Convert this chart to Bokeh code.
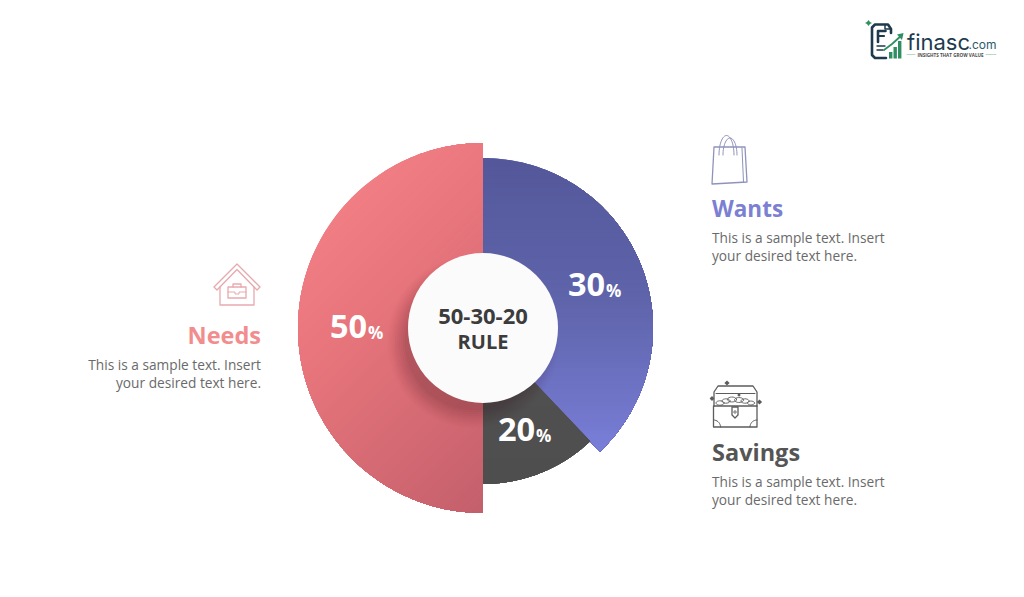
import numpy as np
from bokeh.plotting import figure
from bokeh.embed import file_html
from bokeh.resources import INLINE
from bokeh.core.properties import value

# ---- chart data ----
categories = ["Needs", "Wants", "Savings"]
shares = [50, 30, 20]
slice_start_deg = [180.0, 0.0, 136.6]  # clockwise from the top
sweep_deg = [180.0, 136.6, 43.4]       # the drawn slices are not proportional to their labels
outer_radius = [185, 170, 156]
centre_title = ["50-30-20", "RULE"]
body_lines = ["This is a sample text. Insert", "your desired text here."]

W, H = 1024, 597
CX, CY = 483, 328
HEAD = "Open Sans"

def Y(py):
    return H - np.asarray(py, dtype=float)

p = figure(width=1008, height=581, x_range=(0.5, 1008.5), y_range=(15.5, 596.5),
           output_backend="svg", toolbar_location=None, min_border=0,
           background_fill_color="#ffffff", border_fill_color="#ffffff")
p.axis.visible = False
p.grid.visible = False
p.outline_line_color = None


def hex2rgb(h):
    return np.array([int(h[i:i + 2], 16) for i in (1, 3, 5)], float)


def ramp(stops, t):
    ts = [s[0] for s in stops]
    c = [np.interp(t, ts, [hex2rgb(s[1])[k] for s in stops]) for k in range(3)]
    return "#%02x%02x%02x" % tuple(int(round(v)) for v in c)


def clip(poly, d, t0):
    """keep the part of poly where dot(point, d) >= t0"""
    out = []
    n = len(poly)
    for i in range(n):
        a, b = poly[i], poly[(i + 1) % n]
        sa, sb = a[0] * d[0] + a[1] * d[1] - t0, b[0] * d[0] + b[1] * d[1] - t0
        if sa >= 0:
            out.append(a)
        if sa * sb < 0:
            f = sa / (sa - sb)
            out.append((a[0] + f * (b[0] - a[0]), a[1] + f * (b[1] - a[1])))
    return out


def sector_px(r, start_cw, sweep):
    a = np.radians(np.linspace(start_cw, start_cw + sweep, 160))
    return [(CX, CY)] + [(CX + r * np.sin(v), CY - r * np.cos(v)) for v in a]


def gradient(poly, d, stops, n=70):
    """painted from the light end: every layer covers all that is left, so no seams"""
    t = [q[0] * d[0] + q[1] * d[1] for q in poly]
    for tv in np.linspace(min(t), max(t), n, endpoint=False):
        part = clip(poly, d, tv)
        if len(part) > 2:
            xs = [q[0] for q in part]
            ys = [float(Y(q[1])) for q in part]
            p.patch(xs, ys, fill_color=ramp(stops, tv), line_color=None)


# ---- base wedges from the data ----
base = ["#dc6d75", "#656ab8", "#4f4f4f"]
for st, s, r, c in zip(slice_start_deg, sweep_deg, outer_radius, base):
    a0 = np.radians(90 - st - s)
    a1 = np.radians(90 - st)
    p.wedge(x=[CX], y=[float(Y(CY))], radius=r, start_angle=a0, end_angle=a1,
            fill_color=c, line_color=None)

# ---- gradients over the wedges ----
gradient(sector_px(outer_radius[0], slice_start_deg[0], sweep_deg[0]), (0.7, 0.7),
         [(350, "#f38186"), (470, "#e8757c"), (690, "#c4606c")])
gradient(sector_px(outer_radius[1], slice_start_deg[1], sweep_deg[1]), (0.0, 1.0),
         [(158, "#54589a"), (300, "#5f64ab"), (400, "#7075c8"), (452, "#7a7fda")])
gradient(sector_px(outer_radius[2], slice_start_deg[2], sweep_deg[2]), (0.0, 1.0),
         [(390, "#505050"), (484, "#4d4d4d")], n=6)

# ---- shadow and centre disc ----
for r in np.arange(86, 66, -2.0):
    k = (86 - r) / 20
    p.circle(x=[CX - 10], y=[float(Y(CY + 14))], radius=r, fill_color="#301018",
             fill_alpha=0.012 + 0.03 * k, line_color=None)
p.circle(x=[CX], y=[float(Y(CY))], radius=75, fill_color="#fbfbfb", line_color=None)


def label(x, py, txt, size, color, align="left", bold=False, font=HEAD):
    p.text(x=[x], y=[float(Y(py))], text=[txt], text_font=value(font),
           text_font_size=f"{size}px", text_color=color, text_align=align,
           text_baseline="middle", text_font_style="bold" if bold else "normal")


# ---- share labels ----
share_pos = [(330, 326.5), (568, 284.5), (498, 429.5)]
for (x, py), v in zip(share_pos, shares):
    label(x, py, str(v), 32.5, "#ffffff", bold=True)
    label(x + 38, py + 6, "%", 17, "#ffffff", bold=True)

label(CX, 316, centre_title[0], 22, "#3c3c3c", "center", True)
label(CX, 341, centre_title[1], 20, "#3c3c3c", "center", True)

# ---- side captions ----
label(261, 335, categories[0], 23.5, "#f28d8e", "right", True)
label(712, 208, categories[1], 22.5, "#7b80d2", "left", True)
label(712, 452, categories[2], 23.5, "#555555", "left", True)
BODY = "#6a6a6a"
for i, t in enumerate(body_lines):
    label(261, 364 + 18 * i, t, 13.7, BODY, "right")
    label(712, 237 + 18 * i, t, 13.7, BODY)
    label(712, 481 + 18 * i, t, 13.7, BODY)


def stroke(xs, ys, color, w=1.3):
    p.line(list(xs), list(Y(np.asarray(ys, float))), line_color=color, line_width=w,
           line_join="round", line_cap="round")


# ---- bag icon ----
c = "#8f93bb"
stroke([714, 745, 747, 712, 714], [147, 147, 182, 184, 147], c)
stroke([742, 743.5], [148, 182], c, 1)
for x0, x1, top in [(719, 734, 135.5), (723, 737, 138)]:
    t = np.linspace(0, np.pi, 30)
    stroke((x0 + x1) / 2 + (x1 - x0) / 2 * np.cos(t), 155 - (155 - top) * np.sin(t), c, 1)

# ---- house icon ----
c = "#e7a9ae"
stroke([214, 237, 260, 257, 237, 217, 214], [287, 264, 287, 290, 269.5, 290, 287], c)
stroke([220, 220, 254, 254], [287, 305, 305, 287], c)
stroke([228, 246, 246, 228, 228], [287, 287, 298, 298, 287], c)
stroke([233, 233, 241, 241], [287, 284, 284, 287], c)
stroke([228, 235, 235, 239, 239, 246], [292, 292, 294, 294, 292, 292], c, 1)

# ---- chest icon ----
c = "#5c5c5c"
stroke([713.5, 757, 757, 713.5, 713.5], [406, 406, 427, 427, 406], c)
stroke([714, 714, 718, 753, 757, 757], [406, 392, 386, 386, 392, 406], c)
stroke([716, 755], [393.5, 393.5], c, 1)
for ox, oy, rx in [(720, 403, 4), (726, 401, 4), (732, 399.5, 4.5), (739, 400, 4.5), (745, 401, 4), (751, 403, 3.5)]:
    t = np.linspace(0, 2 * np.pi, 20)
    stroke(ox + rx * np.cos(t), oy + rx * 0.55 * np.sin(t), c, 0.9)
stroke([732, 738, 738, 735, 732, 732], [407, 407, 415, 418, 415, 407], c)
p.circle(x=[735], y=[float(Y(412))], radius=1.2, fill_color=None, line_color=c, line_width=0.9)
t = np.linspace(0, np.pi / 2, 10)
stroke(713.5 + 7 * np.sin(t), 427 - 7 * np.cos(t), c, 1)
stroke(757 - 7 * np.sin(t), 427 - 7 * np.cos(t), c, 1)
for sx, sy, sr in [(727, 383, 2.6), (712, 398.5, 2.4), (759.5, 402, 2.6), (739, 395, 1.8)]:
    p.patch([sx - sr, sx, sx + sr, sx], list(Y([sy, sy - sr, sy, sy + sr])), fill_color=c, line_color=None)

# ---- logo ----
navy = "#1d3a4e"
green = "#2f8f62"
stroke([891, 891, 888, 875, 872, 872, 875, 886], [33, 29, 24.5, 24.5, 27.5, 55, 58, 58], navy, 2.6)
stroke([885, 885, 891], [24.5, 29, 29], navy, 1.5)
stroke([885.5, 878, 878], [31, 31, 42], navy, 2.6)
stroke([878, 884], [36, 36], navy, 2.2)
stroke([877, 885], [46, 46], navy, 1.4)
stroke([877, 883], [50, 50], navy, 1.4)
for bx, top in [(889, 52), (893.5, 47), (898, 41)]:
    p.quad(left=[bx], right=[bx + 3.4], top=[float(Y(top))], bottom=[float(Y(58.5))], fill_color=green, line_color=None)
stroke([884, 892, 902], [50, 44, 35], green, 1.8)
p.patch([903.5, 897, 902], list(Y([33, 34.5, 40])), fill_color=green, line_color=None)
p.patch([868.5, 867, 865, 867, 868.5, 870, 872, 870], list(Y([20, 22, 23, 24, 26, 24, 23, 22])), fill_color=green, line_color=None)
label(907, 41.5, "finasc", 22, navy, font="Inter")
label(968.5, 44, ".com", 12, "#2c5a6a", font="Inter")
label(950.5, 54.5, "INSIGHTS THAT GROW VALUE", 4.6, "#4a4a4a", "center", True)
stroke([907, 915], [54.5, 54.5], "#a9cdb9", 0.8)
stroke([986, 996], [54.5, 54.5], "#a9cdb9", 0.8)

open("out.html", "w").write(file_html(p, INLINE))
